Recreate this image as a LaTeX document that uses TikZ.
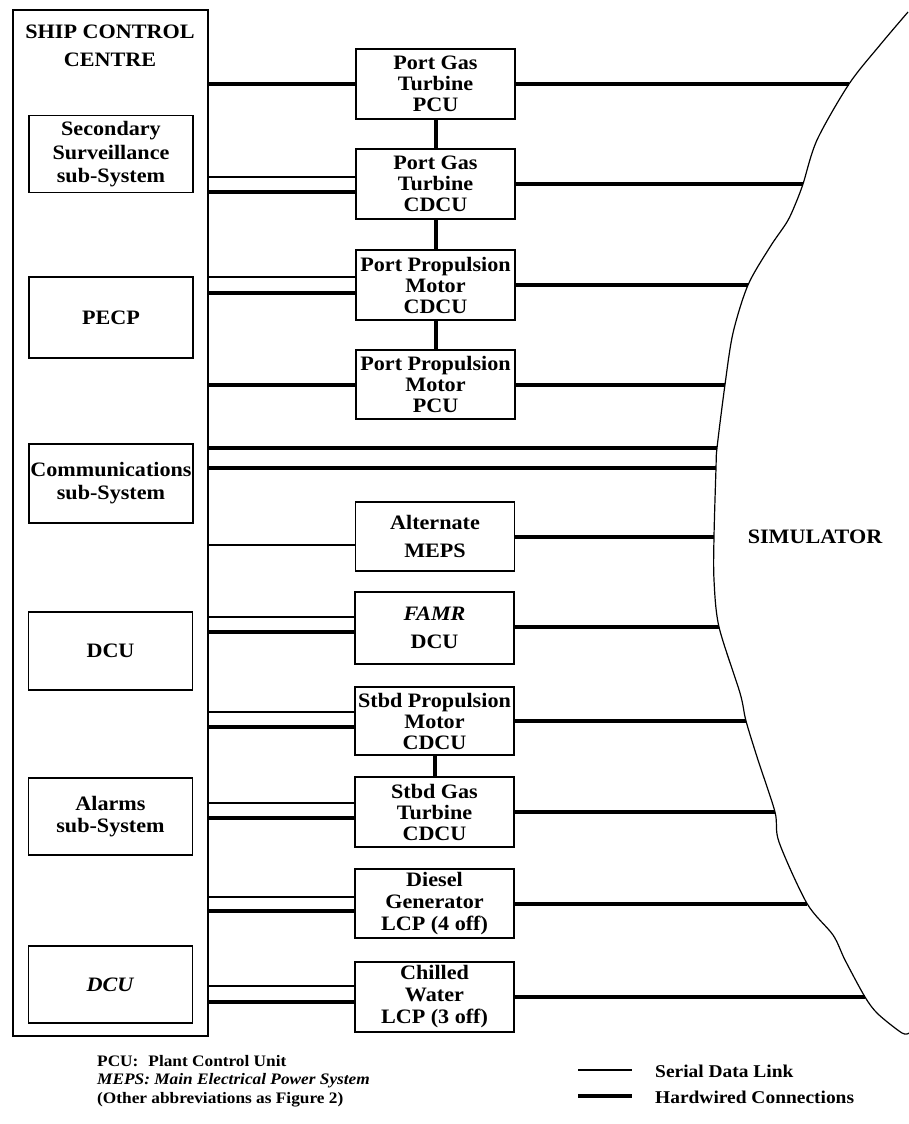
\documentclass[tikz,border=0pt]{standalone}
\usepackage{fontspec}
\setmainfont{Liberation Serif}[FakeStretch=1.08]
\usetikzlibrary{calc}
\begin{document}
\begin{tikzpicture}[x=1pt,y=-1pt,
  box/.style={draw, line width=1.2pt, align=center, inner sep=0pt,
    font=\fontsize{20.5}{21}\selectfont\bfseries},
  lbox/.style={box, minimum width=164pt},
  mbox/.style={box, minimum width=159pt},
  hw/.style={line width=4pt},
  serial/.style={line width=1.1pt},
  txt/.style={font=\fontsize{20.5}{21}\selectfont\bfseries, inner sep=0pt}]
\useasboundingbox (0,0) rectangle (909,1124);

% outer ship control centre box
\node[draw, line width=1.2pt, minimum width=195pt, minimum height=1026pt, inner sep=0pt] (scc) at (110.5,523) {};
\node[txt, align=center, font=\fontsize{20.5}{28}\selectfont\bfseries] (scctitle) at (110,46) {SHIP CONTROL\\CENTRE};

% left inner boxes
\node[lbox, minimum height=77pt] (ss) at (111,154) {Secondary\\[3pt]Surveillance\\[2pt]sub-System};
\node[lbox, minimum height=81pt] (pecp) at (111,317.5) {PECP};
\node[lbox, minimum height=79pt] (comm) at (111,483.5) {Communications\\[2pt]sub-System};
\node[lbox, minimum height=78pt] (dcua) at (110.5,651) {DCU};
\node[lbox, minimum height=77pt] (alarms) at (110.5,816.5) {Alarms\\[1pt]sub-System};
\node[lbox, minimum height=77pt] (dcub) at (110.5,984.5) {\textit{DCU}};

% middle boxes
\node[mbox, minimum height=70pt] (m1) at (435.5,84) {Port Gas\\Turbine\\PCU};
\node[mbox, minimum height=70pt] (m2) at (435.5,184) {Port Gas\\Turbine\\CDCU};
\node[mbox, minimum height=70pt] (m3) at (435.5,285) {Port Propulsion\\Motor\\CDCU};
\node[mbox, minimum height=69pt] (m4) at (435.5,384.5) {Port Propulsion\\Motor\\PCU};
\node[mbox, minimum height=69pt] (m5) at (435,536.5) {Alternate\\[7pt]MEPS};
\node[mbox, minimum height=72pt] (m6) at (434.5,628) {\textit{FAMR}\\[7pt]DCU};
\node[mbox, minimum height=68pt] (m7) at (434.5,721) {Stbd Propulsion\\Motor\\CDCU};
\node[mbox, minimum height=70pt] (m8) at (434.5,812) {Stbd Gas\\Turbine\\CDCU};
\node[mbox, minimum height=69pt] (m9) at (434.5,903.5) {Diesel\\[1pt]Generator\\[1pt]LCP (4 off)};
\node[mbox, minimum height=70pt] (m10) at (434.5,997) {Chilled\\[1pt]Water\\[1pt]LCP (3 off)};

% vertical hardwired links
\draw[hw] (m1.south) -- (m2.north);
\draw[hw] (m2.south) -- (m3.north);
\draw[hw] (m3.south) -- (m4.north);
\draw[hw] (m7.south) -- (m8.north);

% simulator boundary points
\coordinate (c1) at (849,84);
\coordinate (c2) at (803,184);
\coordinate (c3) at (748,285);
\coordinate (c4) at (725,384.5);
\coordinate (L1) at (717,448);
\coordinate (L2) at (716,468);
\coordinate (c5) at (714,536.5);
\coordinate (c6) at (719,627);
\coordinate (c7) at (746,721);
\coordinate (c8) at (775,812);
\coordinate (c9) at (807,903.5);
\coordinate (c10) at (865,997);

\draw[line width=1.2pt] plot[smooth, tension=0.5] coordinates {
  (908,12) (880,45) (c1) (817,140) (c2) (795,205) (787,222) (770,247)
  (c3) (733,333) (c4) (L1) (L2) (c5) (714,580) (c6) (740,693) (c7)
  (758,760) (c8) (779,842) (c9) (833,935) (845,960) (c10) (878,1014)
  (902,1033) (909,1033)};
\node[txt] (sim) at (815,537) {SIMULATOR};

% left side connectors
\draw[hw] (m1.west -| scc.east) -- (m1.west);
\coordinate (m2a) at ($(m2.west)+(0,-7)$);
\coordinate (m2b) at ($(m2.west)+(0,8)$);
\draw[serial] (m2a -| scc.east) -- (m2a);
\draw[hw] (m2b -| scc.east) -- (m2b);
\coordinate (m3a) at ($(m3.west)+(0,-8)$);
\coordinate (m3b) at ($(m3.west)+(0,8)$);
\draw[serial] (m3a -| scc.east) -- (m3a);
\draw[hw] (m3b -| scc.east) -- (m3b);
\draw[hw] (m4.west -| scc.east) -- (m4.west);
\draw[hw] (L1 -| scc.east) -- (L1);
\draw[hw] (L2 -| scc.east) -- (L2);
\coordinate (m5a) at ($(m5.west)+(0,8.5)$);
\draw[serial] (m5a -| scc.east) -- (m5a);
\coordinate (m6a) at ($(m6.west)+(0,-11)$);
\coordinate (m6b) at ($(m6.west)+(0,4)$);
\draw[serial] (m6a -| scc.east) -- (m6a);
\draw[hw] (m6b -| scc.east) -- (m6b);
\coordinate (m7a) at ($(m7.west)+(0,-9)$);
\coordinate (m7b) at ($(m7.west)+(0,6)$);
\draw[serial] (m7a -| scc.east) -- (m7a);
\draw[hw] (m7b -| scc.east) -- (m7b);
\coordinate (m8a) at ($(m8.west)+(0,-9)$);
\coordinate (m8b) at ($(m8.west)+(0,6)$);
\draw[serial] (m8a -| scc.east) -- (m8a);
\draw[hw] (m8b -| scc.east) -- (m8b);
\coordinate (m9a) at ($(m9.west)+(0,-6.5)$);
\coordinate (m9b) at ($(m9.west)+(0,7)$);
\draw[serial] (m9a -| scc.east) -- (m9a);
\draw[hw] (m9b -| scc.east) -- (m9b);
\coordinate (m10a) at ($(m10.west)+(0,-11)$);
\coordinate (m10b) at ($(m10.west)+(0,5)$);
\draw[serial] (m10a -| scc.east) -- (m10a);
\draw[hw] (m10b -| scc.east) -- (m10b);

% right side connectors
\draw[hw] (m1.east) -- (c1);
\draw[hw] (m2.east) -- (c2);
\draw[hw] (m3.east) -- (c3);
\draw[hw] (m4.east) -- (c4);
\draw[hw] (m5.east) -- (c5);
\draw[hw] (m6.east |- c6) -- (c6);
\draw[hw] (m7.east) -- (c7);
\draw[hw] (m8.east) -- (c8);
\draw[hw] (m9.east) -- (c9);
\draw[hw] (m10.east) -- (c10);

% notes
\node[anchor=base west, font=\fontsize{16}{18}\selectfont\bfseries, inner sep=0pt] (n1) at (97,1066) {PCU:\hspace{10pt}Plant Control Unit};
\node[anchor=base west, font=\fontsize{16}{18}\selectfont\bfseries\itshape, inner sep=0pt] (n2) at (97,1084.5) {MEPS: Main Electrical Power System};
\node[anchor=base west, font=\fontsize{16}{18}\selectfont\bfseries, inner sep=0pt] (n3) at (97,1103) {(Other abbreviations as Figure 2)};

% legend
\coordinate (lg1a) at (578,1070);
\coordinate (lg1b) at (632,1070);
\coordinate (lg2a) at (578,1096);
\coordinate (lg2b) at (632,1096);
\draw[serial] (lg1a) -- (lg1b);
\draw[hw] (lg2a) -- (lg2b);
\node[anchor=base west, font=\fontsize{18}{20}\selectfont\bfseries, inner sep=0pt] (lgt1) at (655,1077) {Serial Data Link};
\node[anchor=base west, font=\fontsize{18}{20}\selectfont\bfseries, inner sep=0pt] (lgt2) at (655,1103) {Hardwired Connections};
\end{tikzpicture}
\end{document}
